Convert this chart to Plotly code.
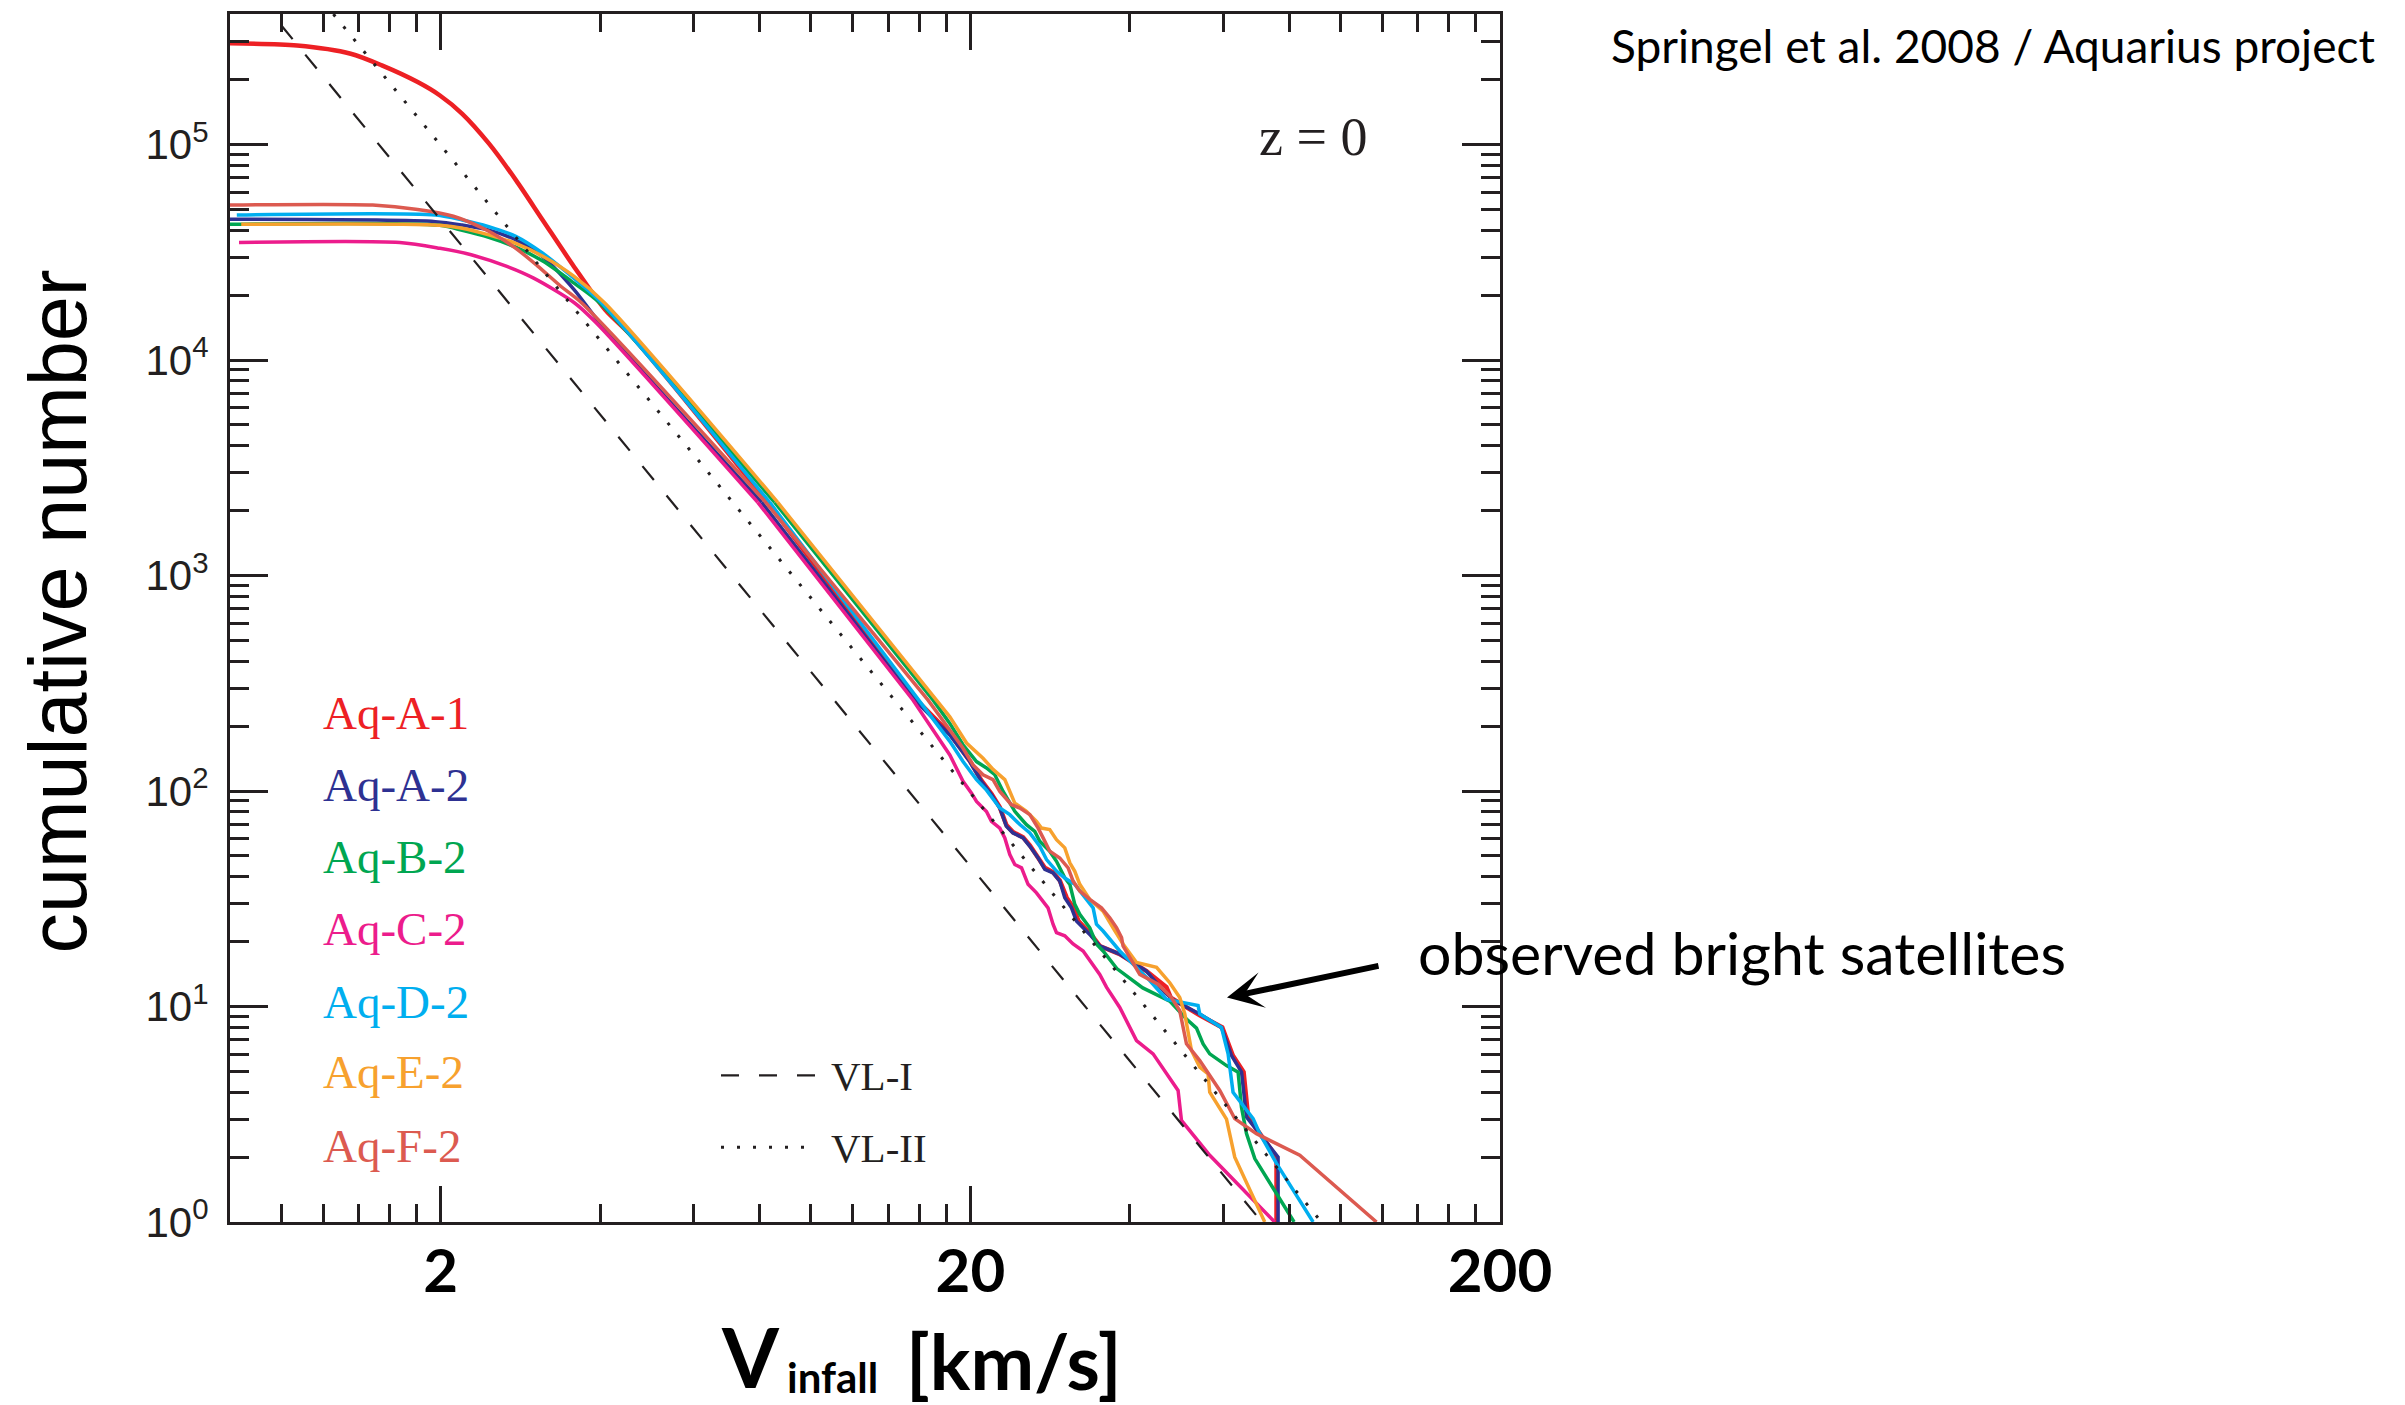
import math
import plotly.graph_objects as go

# Cumulative number of subhaloes above a given infall circular velocity, z = 0
# (Aquarius haloes, Springel et al. 2008)

v_aq_a1 = [0.799, 1.071, 1.352, 1.548, 1.809, 1.993, 2.196, 2.467, 2.773, 3.114, 3.567, 4.088,
           4.590, 8.287, 15.84, 18.29, 19.10, 19.95, 20.98, 21.92, 22.73, 23.39, 24.07, 25.15,
           25.90, 26.85, 27.64, 28.65, 29.50, 30.40, 31.30, 32.00, 32.90, 33.80, 35.10, 38.29,
           43.00, 46.90, 47.80, 54.22, 59.79, 62.60, 65.60, 66.90, 75.70, 75.70]
n_aq_a1 = [2.95e5, 2.88e5, 2.64e5, 2.33e5, 1.95e5, 1.69e5, 1.39e5, 1.01e5, 6.84e4, 4.47e4,
           2.72e4, 1.71e4, 1.29e4, 2185, 264, 185, 160, 138, 112, 97, 84, 69.5, 64.5, 61, 56,
           49.5, 44, 42, 38.5, 32, 28.7, 24.9, 23.2, 21.6, 19.1, 17.5, 14.6, 12.3, 11.0, 9.1,
           8.0, 5.92, 4.96, 3.07, 2.0, 1.0]

v_aq_a2 = [0.799, 1.954, 2.196, 2.467, 2.773, 3.114, 3.567, 3.993, 8.075, 15.70, 18.29, 19.10,
           19.95, 20.98, 21.92, 22.73, 23.39, 24.07, 25.15, 25.90, 26.85, 27.64, 28.65, 29.50,
           30.15, 31.04, 31.72, 32.65, 33.61, 35.10, 38.29, 43.00, 46.57, 48.63, 54.22, 59.58,
           62.23, 65.02, 66.43, 76.21, 76.21]
n_aq_a2 = [4.50e4, 4.39e4, 4.23e4, 4.01e4, 3.61e4, 3.02e4, 2.13e4, 1.49e4, 2185, 264, 182, 158,
           137, 111, 96.1, 83.4, 68.6, 63.9, 60.6, 55.4, 48.9, 43.3, 41.7, 38.2, 32.0, 28.7,
           24.9, 23.2, 21.6, 19.1, 17.5, 14.6, 11.6, 10.6, 9.23, 8.0, 5.92, 4.96, 3.07, 2.0, 1.0]

v_aq_b2 = [0.799, 1.991, 2.196, 2.464, 2.771, 3.116, 3.566, 3.993, 8.543, 17.01, 18.29, 19.37,
           20.54, 21.45, 22.24, 23.06, 24.26, 25.52, 26.46, 27.04, 28.24, 29.08, 30.15, 30.82,
           31.49, 32.18, 33.61, 34.60, 35.61, 37.80, 42.32, 47.59, 51.17, 53.45, 55.01, 56.62,
           60.90, 64.05, 65.00, 66.43, 68.87, 81.70]
n_aq_b2 = [4.27e4, 4.22e4, 4.00e4, 3.71e4, 3.34e4, 2.88e4, 2.28e4, 1.84e4, 2185, 264, 206, 164,
           137, 128, 119, 99.6, 80.5, 69.8, 65.0, 58.5, 52.6, 47.2, 39.6, 36.9, 29.8, 26.8,
           23.2, 19.5, 18.1, 15.0, 12.2, 10.6, 8.75, 7.94, 6.71, 6.03, 5.32, 4.96, 3.41, 2.57,
           1.97, 1.0]

v_aq_c2 = [0.832, 1.673, 1.993, 2.283, 2.666, 2.995, 3.580, 3.930, 7.936, 15.59, 18.29, 18.83,
           19.37, 20.10, 20.54, 21.45, 21.92, 22.73, 23.23, 23.74, 24.26, 24.98, 25.70, 26.66,
           27.24, 28.03, 28.65, 29.08, 30.15, 31.26, 32.65, 35.10, 36.14, 38.29, 41.18, 44.26,
           49.34, 50.07, 56.62, 75.10]
n_aq_c2 = [3.51e4, 3.51e4, 3.30e4, 3.08e4, 2.72e4, 2.40e4, 1.84e4, 1.49e4, 2185, 264, 147, 128,
           111, 97.8, 89.5, 80.4, 72.3, 67.3, 60.6, 50.7, 45.6, 44.0, 36.9, 33.7, 31.4, 28.7,
           24.1, 22.0, 21.3, 19.5, 18.1, 14.1, 12.3, 9.90, 6.95, 6.03, 4.08, 2.96, 2.04, 1.0]

v_aq_d2 = [0.824, 1.954, 2.196, 2.464, 2.771, 3.116, 3.566, 4.027, 8.361, 15.93, 18.29, 19.37,
           20.54, 21.45, 22.73, 23.74, 24.80, 25.90, 27.04, 27.85, 29.08, 30.15, 31.49, 34.10,
           34.60, 35.61, 37.19, 38.29, 43.62, 45.56, 46.92, 48.63, 53.82, 54.22, 59.58, 60.44,
           61.32, 62.66, 68.37, 70.39, 75.68, 88.75]
n_aq_d2 = [4.71e4, 4.71e4, 4.47e4, 4.16e4, 3.75e4, 3.13e4, 2.40e4, 1.84e4, 2185, 264, 170, 137,
           113, 101, 83.4, 77.7, 69.9, 63.9, 55.4, 48.1, 42.5, 39.5, 36.9, 28.7, 24.1, 22.4,
           19.8, 18.1, 13.2, 11.8, 10.8, 10.6, 10.1, 9.23, 8.0, 6.95, 6.03, 4.0, 3.02, 2.57,
           1.87, 1.0]

v_aq_e2 = [0.840, 1.673, 1.991, 2.196, 2.464, 2.771, 3.116, 3.566, 4.080, 8.655, 17.26, 18.29,
           19.67, 21.13, 22.07, 23.23, 24.26, 25.52, 26.66, 27.24, 28.24, 29.08, 30.15, 30.82,
           31.49, 32.18, 33.61, 35.61, 37.19, 38.84, 41.18, 44.93, 47.59, 49.70, 50.79, 52.30,
           54.22, 56.21, 56.62, 60.90, 63.13, 71.92]
n_aq_e2 = [4.27e4, 4.27e4, 4.22e4, 4.09e4, 3.81e4, 3.48e4, 3.03e4, 2.45e4, 1.84e4, 2185, 264,
           221, 167, 142, 126, 113, 87.9, 80.5, 72.3, 67.3, 66.2, 59.5, 54.5, 46.4, 42.4, 36.9,
           31.4, 27.7, 23.2, 19.5, 16.0, 15.2, 12.9, 11.0, 9.26, 6.25, 5.23, 4.87, 4.0, 3.0,
           2.0, 1.0]

v_aq_f2 = [0.799, 1.488, 1.809, 2.113, 2.464, 2.771, 3.049, 3.370, 3.691, 8.217, 16.64, 18.29,
           19.37, 20.24, 21.13, 22.07, 22.73, 23.91, 24.80, 25.90, 26.85, 27.44, 28.24, 29.50,
           30.59, 31.26, 32.18, 33.61, 35.36, 36.66, 37.75, 38.59, 38.84, 41.77, 45.23, 47.94,
           49.70, 51.17, 54.22, 59.15, 63.13, 69.37, 83.75, 116.9]
n_aq_f2 = [5.24e4, 5.24e4, 5.00e4, 4.65e4, 3.96e4, 3.30e4, 2.73e4, 2.20e4, 1.84e4, 2185, 264,
           192, 158, 132, 119, 113, 99.6, 86.4, 83.4, 77.7, 67.3, 60.6, 52.6, 48.9, 44.0, 38.2,
           34.3, 31.4, 28.7, 25.8, 23.2, 20.9, 19.1, 14.1, 12.7, 11.0, 9.56, 6.71, 5.61, 4.08,
           3.02, 2.57, 2.04, 1.0]

# Via Lactea I / II power-law fits (end points)
v_vl1 = [0.90, 71.0]
n_vl1 = [4.9e5, 1.0]
v_vl2 = [1.20, 92.0]
n_vl2 = [4.6e5, 1.0]

series_names = ["Aq-A-1", "Aq-A-2", "Aq-B-2", "Aq-C-2", "Aq-D-2", "Aq-E-2", "Aq-F-2"]
series_v = [v_aq_a1, v_aq_a2, v_aq_b2, v_aq_c2, v_aq_d2, v_aq_e2, v_aq_f2]
series_n = [n_aq_a1, n_aq_a2, n_aq_b2, n_aq_c2, n_aq_d2, n_aq_e2, n_aq_f2]
series_colors = ["#ED2024", "#2E3192", "#00A651", "#EC1C8C", "#00AEEF", "#F7A12E", "#DC5A50"]
series_widths = [4.5, 3.5, 3.5, 3.5, 3.5, 3.5, 3.5]

x_major = [2, 20, 200]
x_major_text = ["2", "20", "200"]
x_minor = [1.0, 1.2, 1.4, 1.6, 1.8, 4, 6, 8, 10, 12, 14, 16, 18,
           40, 60, 80, 100, 120, 140, 160, 180]
y_major = [1, 10, 100, 1e3, 1e4, 1e5]
y_major_text = ["10<sup>0</sup>", "10<sup>1</sup>", "10<sup>2</sup>",
                "10<sup>3</sup>", "10<sup>4</sup>", "10<sup>5</sup>"]
y_minor = [m * 10 ** k for k in range(0, 6) for m in range(2, 10) if m * 10 ** k < 4.0e5]

AXIS = "#231F20"
SANS = "Lato"
HELV = "Liberation Sans"
SERIF = "Liberation Serif"

fig = go.Figure()

# smooth turnover at low velocity, resolved subhalo counts at high velocity
for name, v, n, c, w in zip(series_names, series_v, series_n, series_colors, series_widths):
    k = n.index(2185)
    fig.add_trace(go.Scatter(x=v[:k + 1], y=n[:k + 1], mode="lines", name=name,
                             line=dict(color=c, width=w, shape="spline", smoothing=0.8)))
    fig.add_trace(go.Scatter(x=v[k:], y=n[k:], mode="lines", name=name,
                             line=dict(color=c, width=w)))

fig.add_trace(go.Scatter(x=v_vl1, y=n_vl1, mode="lines", name="VL-I",
                         line=dict(color=AXIS, width=2.2, dash="18px,20px")))
fig.add_trace(go.Scatter(x=v_vl2, y=n_vl2, mode="lines", name="VL-II",
                         line=dict(color=AXIS, width=3, dash="3px,13px")))

fig.update_layout(
    width=2405, height=1405,
    margin=dict(l=230, r=905, t=11, b=183),
    paper_bgcolor="white", plot_bgcolor="white",
    showlegend=False,
    xaxis=dict(
        type="log", range=[math.log10(0.8), math.log10(200)],
        tickmode="array", tickvals=x_major, ticktext=x_major_text,
        ticks="inside", ticklen=36, tickwidth=2.5, tickcolor=AXIS,
        showline=True, linewidth=3, linecolor=AXIS, mirror="ticks",
        showgrid=False, zeroline=False,
        tickfont=dict(family=SANS, size=60, color="black", weight="bold"),
        ticklabelstandoff=-5,
        minor=dict(tickmode="array", tickvals=x_minor, ticks="inside",
                   ticklen=18, tickwidth=2.5, tickcolor=AXIS, showgrid=False),
    ),
    yaxis=dict(
        type="log", range=[0, 5.606],
        tickmode="array", tickvals=y_major, ticktext=y_major_text,
        ticks="inside", ticklen=38, tickwidth=2.5, tickcolor=AXIS,
        showline=True, linewidth=3, linecolor=AXIS, mirror="ticks",
        showgrid=False, zeroline=False,
        tickfont=dict(family=HELV, size=42, color=AXIS),
        ticklabelstandoff=10,
        minor=dict(tickmode="array", tickvals=y_minor, ticks="inside",
                   ticklen=19, tickwidth=2.5, tickcolor=AXIS, showgrid=False),
    ),
)


def px_to_paper(px, py):
    return (px - 230) / 1270.0, (1222 - py) / 1211.0


annotations = []


def add_text(text, px, py, size, family, color="black", xanchor="center", weight="normal",
             angle=0):
    xt, yt = px_to_paper(px, py)
    annotations.append(dict(text=text, x=xt, y=yt, xref="paper", yref="paper",
                            xanchor=xanchor, yanchor="middle", showarrow=False,
                            textangle=angle,
                            font=dict(family=family, size=size, color=color, weight=weight)))


# x-axis title: V with subscript "infall", then the unit
add_text("V", 719, 1356, 82, SANS, xanchor="left", weight="bold")
add_text("infall", 785, 1377, 42, SANS, xanchor="left", weight="bold")
add_text("[km/s]", 904, 1361, 76, SANS, xanchor="left", weight="bold")

# y-axis title
add_text("cumulative number", 58, 610, 81, HELV, angle=-90)

# redshift label and credit line
add_text("z = 0", 1313, 134, 54, SERIF, color=AXIS)
add_text("Springel et al. 2008 / Aquarius project", 1993, 43, 46, SANS)

# pointer to the brightest satellites
add_text("observed bright satellites", 1742, 952, 59, SANS)
xt, yt = px_to_paper(1227, 997)
annotations.append(dict(text="", x=xt, y=yt, xref="paper", yref="paper",
                        showarrow=True, ax=153, ay=-32, arrowhead=3, arrowsize=1.0,
                        arrowwidth=6, arrowcolor="black", standoff=0))

# run labels, coloured like their curves
label_rows = [712, 784, 856, 928, 1001, 1072, 1146]
for name, c, row in zip(series_names, series_colors, label_rows):
    add_text(name, 321, row, 47, SERIF, color=c, xanchor="left")

# Via Lactea key
for label, row, dash, w in [("VL-I", 1075, "18px,20px", 2.2), ("VL-II", 1147, "3px,13px", 3)]:
    x0, y0 = px_to_paper(721, row)
    x1, _ = px_to_paper(817, row)
    fig.add_shape(type="line", xref="paper", yref="paper", x0=x0, x1=x1, y0=y0, y1=y0,
                  line=dict(color=AXIS, width=w, dash=dash))
    add_text(label, 829, row + 1, 41, SERIF, color=AXIS, xanchor="left")

fig.update_layout(annotations=annotations)

fig.write_html("out.html")
